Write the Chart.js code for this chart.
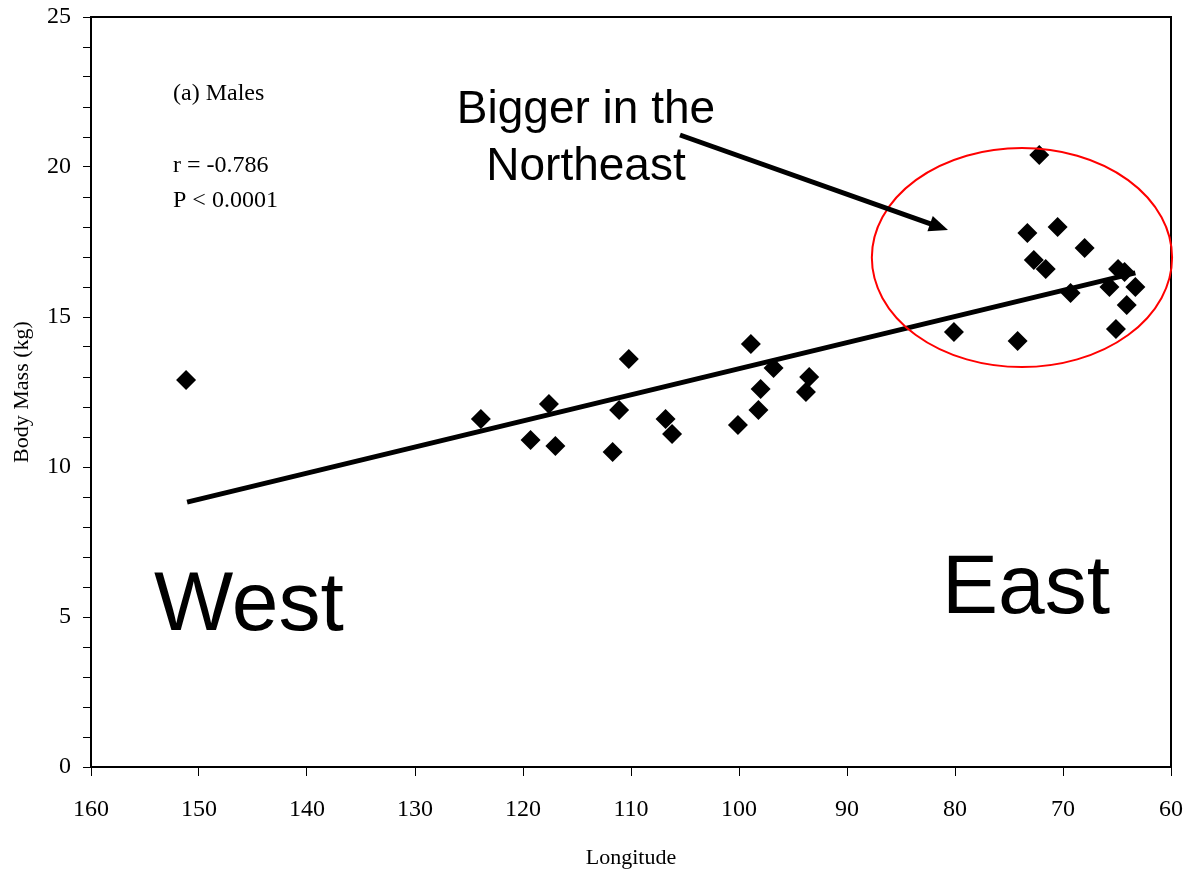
<!DOCTYPE html>
<html>
<head>
<meta charset="utf-8">
<script src="https://cdn.jsdelivr.net/npm/chart.js@4"></script>
<style>
  body { margin: 0; background: #fff; }
  #wrap { width: 1188px; height: 873px; }
</style>
</head>
<body>
<div id="wrap"><canvas id="chart"></canvas></div>
<script>
// body mass of males against longitude
const longitude = [151.2, 123.9, 119.3, 117.6, 117.0, 111.7, 111.1, 110.2, 106.8, 106.2,
  100.1, 98.9, 98.2, 98.0, 96.8, 93.8, 93.5, 80.1, 74.2, 73.3, 72.2, 72.7, 71.6, 70.5,
  69.3, 68.0, 65.7, 65.1, 64.9, 64.3, 64.1, 63.3];
const bodyMass = [12.9, 11.6, 10.9, 12.1, 10.7, 10.5, 11.9, 13.6, 11.6, 11.1,
  11.4, 14.1, 11.9, 12.6, 13.3, 12.5, 13.0, 14.5, 14.2, 17.8, 20.4, 16.9, 16.6, 18.0,
  15.8, 17.3, 16.0, 14.6, 16.6, 16.5, 15.4, 16.0];
// regression line ends
const fitX = [151.1, 63.3];
const fitY = [8.83, 16.47];
const xTicks = [60, 160];
const yTicks = [0, 25];

const serif = "'Liberation Serif', 'Times New Roman', serif";
const sans = "'Liberation Sans', Arial, sans-serif";

// frame, ellipse, arrow and labels
const decor = {
  id: "decor",
  afterDatasetsDraw(chart) {
    const ctx = chart.ctx;
    const a = chart.chartArea;
    const xs = chart.scales.x, ys = chart.scales.y;
    ctx.save();
    ctx.strokeStyle = "#000";
    ctx.lineWidth = 2;
    ctx.strokeRect(a.left, a.top, a.right - a.left, a.bottom - a.top);

    // red ring round the northeast points
    const cx = xs.getPixelForValue(73.8), cy = ys.getPixelForValue(16.98);
    const rx = Math.abs(xs.getPixelForValue(73.8 - 13.9) - cx);
    const ry = Math.abs(ys.getPixelForValue(16.98 + 3.65) - cy);
    ctx.strokeStyle = "#f00";
    ctx.lineWidth = 2;
    ctx.beginPath();
    ctx.ellipse(cx, cy, rx, ry, 0, 0, Math.PI * 2);
    ctx.stroke();

    // arrow
    const x0 = a.left + 589, y0 = a.top + 118;
    const x1 = a.left + 857, y1 = a.top + 213;
    const ang = Math.atan2(y1 - y0, x1 - x0);
    const hl = 19, hw = 8;
    const bx = x1 - Math.cos(ang) * hl, by = y1 - Math.sin(ang) * hl;
    ctx.strokeStyle = "#000";
    ctx.lineWidth = 5;
    ctx.beginPath();
    ctx.moveTo(x0, y0);
    ctx.lineTo(bx + Math.cos(ang) * 2, by + Math.sin(ang) * 2);
    ctx.stroke();
    ctx.fillStyle = "#000";
    ctx.beginPath();
    ctx.moveTo(x1, y1);
    ctx.lineTo(bx - Math.sin(ang) * hw, by + Math.cos(ang) * hw);
    ctx.lineTo(bx + Math.sin(ang) * hw, by - Math.cos(ang) * hw);
    ctx.closePath();
    ctx.fill();

    ctx.textBaseline = "alphabetic";
    ctx.font = "24px " + serif;
    ctx.textAlign = "left";
    ctx.fillText("(a) Males", a.left + 82, a.top + 83);
    ctx.fillText("r = -0.786", a.left + 82, a.top + 155);
    ctx.fillText("P < 0.0001", a.left + 82, a.top + 190);

    ctx.font = "46px " + sans;
    ctx.textAlign = "center";
    ctx.fillText("Bigger in the", a.left + 495, a.top + 106);
    ctx.fillText("Northeast", a.left + 495, a.top + 163);

    ctx.font = "84px " + sans;
    ctx.textAlign = "left";
    ctx.fillText("West", a.left + 63, a.top + 613);
    ctx.fillText("East", a.left + 851, a.top + 596);
    ctx.restore();
  }
};

new Chart(document.getElementById("chart"), {
  type: "scatter",
  data: {
    datasets: [
      {
        label: "Males",
        data: longitude.map((x, i) => ({ x: x, y: bodyMass[i] })),
        pointStyle: "rectRot",
        pointRadius: 10,
        pointBackgroundColor: "#000",
        pointBorderColor: "#000",
        pointBorderWidth: 0,
      },
      {
        label: "Fit",
        data: fitX.map((x, i) => ({ x: x, y: fitY[i] })),
        showLine: true,
        borderColor: "#000",
        borderWidth: 5,
        pointRadius: 0,
      },
    ],
  },
  options: {
    responsive: true,
    maintainAspectRatio: false,
    animation: false,
    layout: { padding: { top: 17, right: 17, left: 0, bottom: 0 } },
    plugins: { legend: { display: false }, tooltip: { enabled: false } },
    scales: {
      x: {
        type: "linear",
        reverse: true,
        min: xTicks[0],
        max: xTicks[1],
        // fixed axis height, and no extra overhang padding from the end labels
        afterFit: (s) => { s.height = 106; s.paddingLeft = 0; s.paddingRight = 0; },
        grid: { drawOnChartArea: false, drawTicks: true, tickLength: 9, color: "#000", lineWidth: 1 },
        border: { display: true, color: "#000", width: 2 },
        ticks: { stepSize: 10, color: "#000", padding: 19, font: { family: serif, size: 24 } },
        title: { display: true, text: "Longitude", color: "#000", font: { family: serif, size: 22 }, padding: { top: 0, bottom: 2 } },
      },
      y: {
        min: yTicks[0],
        max: yTicks[1],
        afterFit: (s) => { s.width = 91; s.paddingTop = 0; s.paddingBottom = 0; },
        grid: { drawOnChartArea: false, drawTicks: true, tickLength: 8, color: "#000", lineWidth: 1 },
        border: { display: true, color: "#000", width: 2 },
        ticks: {
          stepSize: 1,
          autoSkip: false,
          color: "#000",
          padding: 12,
          font: { family: serif, size: 24 },
          callback: (v) => (v % 5 === 0 ? v : ""),
        },
        title: { display: true, text: "Body Mass (kg)", color: "#000", font: { family: serif, size: 22 }, padding: { top: 9, bottom: 0 } },
      },
    },
  },
  plugins: [decor],
});
</script>
</body>
</html>
